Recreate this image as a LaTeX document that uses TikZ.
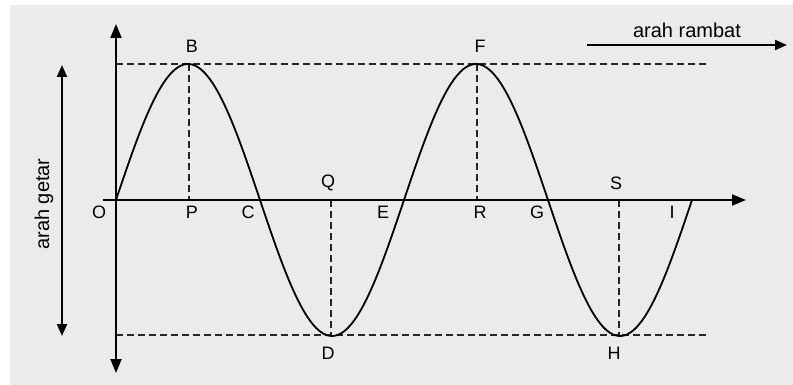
\documentclass[tikz,border=0pt]{standalone}
\usepackage{fontspec}
\setmainfont{Liberation Sans}
\usetikzlibrary{arrows.meta}
\begin{document}
\begin{tikzpicture}[x=1pt,y=-1pt,
  tip/.style={-{Triangle[length=14pt,width=11pt]}},
  axis/.style={line width=2.2pt,tip},
  guide/.style={line width=2pt,dash pattern=on 7pt off 4pt,draw=black!85},
  wave/.style={line width=1.8pt},
  lbl/.style={font=\fontsize{18}{18}\selectfont,inner sep=0pt},
  captext/.style={font=\fontsize{20}{20}\selectfont,inner sep=0pt}]
\useasboundingbox (0,0) rectangle (793,385);
\fill[white] (0,0) rectangle (793,385);
\fill[black!8] (10,5) rectangle (793,385);
% coordinates
\coordinate (o) at (116,200);
\coordinate (vtop) at (116,24);
\coordinate (vbot) at (116,373);
\coordinate (hl) at (103,200);
\coordinate (hr) at (746,200);
\coordinate (tl) at (116,64);
\coordinate (tr) at (707,64);
\coordinate (bl) at (116,335);
\coordinate (br) at (707,335);
\coordinate (b) at (189,64);
\coordinate (p) at (189,200);
\coordinate (q) at (331,200);
\coordinate (d) at (331,335);
\coordinate (f) at (477,64);
\coordinate (r) at (477,200);
\coordinate (s) at (619,200);
\coordinate (h) at (619,335);
\coordinate (gt) at (62,65);
\coordinate (gb) at (62,336);
\coordinate (rl) at (587,45);
\coordinate (rr) at (787,45);
% guides
\draw[guide] (tl) -- (tr);
\draw[guide] (bl) -- (br);
\draw[guide] (b) -- (p);
\draw[guide] (q) -- (d);
\draw[guide] (f) -- (r);
\draw[guide] (s) -- (h);
% axes
\draw[axis] (o) -- (vtop);
\draw[axis] (o) -- (vbot);
\draw[axis] (hl) -- (hr);
\draw[line width=2pt,{Triangle[length=12pt,width=10pt]}-{Triangle[length=12pt,width=10pt]}] (gt) -- (gb);
\draw[line width=2pt,-{Triangle[length=12pt,width=10pt]}] (rl) -- (rr);
% wave
\draw[wave] plot[domain=116:692,samples=240,smooth] (\x,{200-136*sin((\x-116)*1.25)});
% labels
\node[lbl] (lB) at (192,46) {B};
\node[lbl] (lF) at (480,46) {F};
\node[lbl] (lQ) at (328,183) {Q};
\node[lbl] (lS) at (616,183) {S};
\node[lbl] (lO) at (99,212) {O};
\node[lbl] (lP) at (192,212) {P};
\node[lbl] (lC) at (248,212) {C};
\node[lbl] (lE) at (383,212) {E};
\node[lbl] (lR) at (480,212) {R};
\node[lbl] (lG) at (537,212) {G};
\node[lbl] (lI) at (672,212) {I};
\node[lbl] (lD) at (328,353) {D};
\node[lbl] (lH) at (614,353) {H};
\node[captext,rotate=90] (getar) at (44,204) {arah getar};
\node[captext] (rambat) at (687,30) {arah rambat};
\end{tikzpicture}
\end{document}
